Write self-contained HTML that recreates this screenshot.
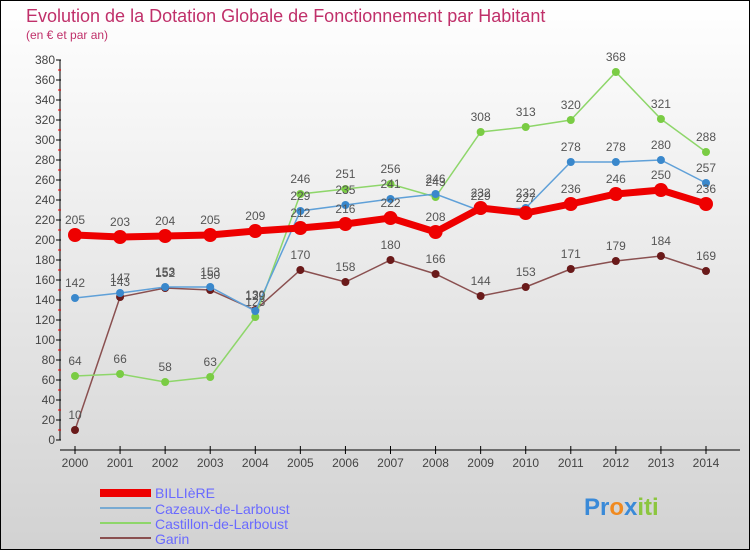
<!DOCTYPE html>
<html><head><meta charset="utf-8"><style>
body{margin:0}
#c{width:750px;height:550px;position:relative;overflow:hidden}
svg text{font-family:"Liberation Sans",sans-serif}
</style></head><body>
<div id="c">
<svg id="s" width="750" height="550" xmlns="http://www.w3.org/2000/svg">
<defs><linearGradient id="bg" x1="0" y1="0" x2="0" y2="1"><stop offset="0" stop-color="#ffffff"/><stop offset="1" stop-color="#d2d2d2"/></linearGradient></defs>
<rect x="0.5" y="0.5" width="749" height="549" fill="url(#bg)" stroke="#000"/>
<text x="26" y="22" font-size="18" fill="#c0306a">Evolution de la Dotation Globale de Fonctionnement par Habitant</text>
<text x="26" y="39" font-size="12" fill="#c0306a">(en € et par an)</text>
<g id="axes"></g><g id="series"></g>
<g>
<rect x="100" y="489" width="51" height="8" fill="#ee0000"/>
<text x="155" y="498" font-size="14" fill="#6a6aff">BILLIèRE</text>
<line x1="100" y1="508" x2="151" y2="508" stroke="#78aad2" stroke-width="2"/>
<text x="155" y="514" font-size="14" fill="#6a6aff">Cazeaux-de-Larboust</text>
<line x1="100" y1="523" x2="151" y2="523" stroke="#8ed66a" stroke-width="2"/>
<text x="155" y="529" font-size="14" fill="#6a6aff">Castillon-de-Larboust</text>
<line x1="100" y1="538" x2="151" y2="538" stroke="#8a5050" stroke-width="2"/>
<text x="155" y="544" font-size="14" fill="#6a6aff">Garin</text>
</g>
<g font-size="24" font-weight="bold">
<text x="584" y="515" fill="#3a8ad8">Pr<tspan fill="#f08a20">o</tspan><tspan fill="#3a8ad8">x</tspan><tspan fill="#8cc63f">iti</tspan></text>
</g>
</svg></div>
<script>
const years=[2000,2001,2002,2003,2004,2005,2006,2007,2008,2009,2010,2011,2012,2013,2014];
const billiere=[205,203,204,205,209,212,216,222,208,232,227,236,246,250,236];
const cazeaux=[142,147,153,153,129,229,235,241,246,229,232,278,278,280,257];
const castillon=[64,66,58,63,123,246,251,256,243,308,313,320,368,321,288];
const garin=[10,143,152,150,130,170,158,180,166,144,153,171,179,184,169];
const yTicks=[0,20,40,60,80,100,120,140,160,180,200,220,240,260,280,300,320,340,360,380];
const NS="http://www.w3.org/2000/svg";
const xS=i=>75+i*(706-75)/(years.length-1);
const yS=v=>440-v*(380/380);
function mk(tag,attrs,parent,txt){const e=document.createElementNS(NS,tag);for(const k in attrs)e.setAttribute(k,attrs[k]);if(txt!==undefined)e.textContent=txt;parent.appendChild(e);return e;}
const ax=document.getElementById('axes');
let yl=mk('line',{x1:60,y1:yS(380),x2:60,y2:yS(0),stroke:'#000'},ax);


yTicks.forEach((v,k)=>{
 const t=mk('line',{x1:56,x2:61,y1:yS(v),y2:yS(v),stroke:'#000'},ax);
 
 
 if(k<yTicks.length-1){
  const m=mk('line',{x1:58,x2:61,y1:yS(v+10),y2:yS(v+10),stroke:'#e00'},ax);
  
  
 }
 const l=mk('text',{x:55,y:yS(v)+4,'text-anchor':'end','font-size':12,fill:'#444'},ax,v);
 
 
});
let xl=mk('line',{x1:60,y1:450,x2:740,y2:450,stroke:'#000'},ax);


years.forEach((y,i)=>{
 const t=mk('line',{x1:xS(i),x2:xS(i),y1:446,y2:454,stroke:'#000'},ax);
 
 
 const l=mk('text',{x:xS(i),y:467,'text-anchor':'middle','font-size':12,fill:'#444'},ax,y);
 
 
});
const sg=document.getElementById('series');
function draw(vals,name,color,w,r,dot){
 const g=mk('g',{},sg);
 
 
 const p=mk('polyline',{points:vals.map((v,i)=>xS(i)+','+yS(v)).join(' '),fill:'none',stroke:color,'stroke-width':w},g);
 
 
 vals.forEach((v,i)=>{
  const c=mk('circle',{cx:xS(i),cy:yS(v),r:r,fill:dot},g);
  
  
  const t=mk('text',{x:xS(i),y:yS(v)-11,'text-anchor':'middle','font-size':12,fill:'#555'},g,v);
  
  
 });
}
draw(garin,'garin','#8a5050',1.5,4,'#6a1a1a');
draw(castillon,'castillon','#8ed66a',1.5,4,'#7acc44');
draw(cazeaux,'cazeaux','#5fa0d8',1.5,4,'#3a88cc');
draw(billiere,'billiere','#ee0000',7,7,'#ee0000');
</script>
</body></html>
